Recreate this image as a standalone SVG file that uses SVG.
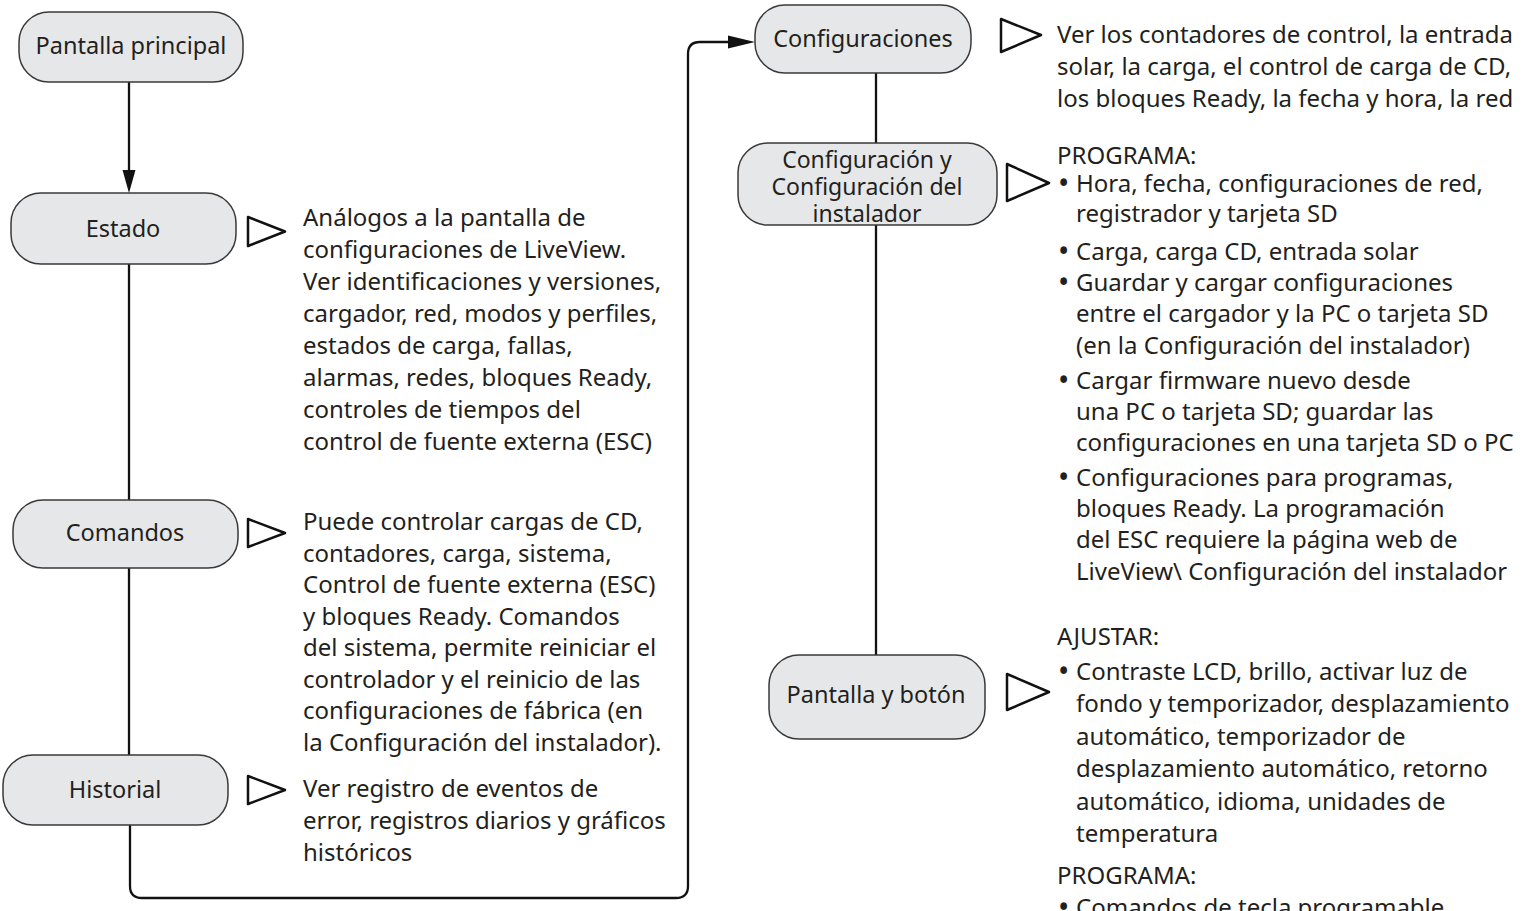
<svg xmlns="http://www.w3.org/2000/svg" width="1537" height="911" viewBox="0 0 1537 911">
<style>
.node rect{fill:#e6e7e8;stroke:#3a3a3a;stroke-width:1.5}
.lbl{font-family:"Noto Sans",Lato,sans-serif;font-size:23.5px;fill:#231f20;text-anchor:middle}
.lbl2{font-family:"Noto Sans",Lato,sans-serif;font-size:23px;fill:#231f20;text-anchor:middle}
.txt{font-family:"Noto Sans",Lato,sans-serif;font-size:24px;fill:#231f20}
.bul{font-size:30px}
.tri{fill:none;stroke:#111;stroke-width:2.5;stroke-linejoin:round}
.conn{fill:none;stroke:#111;stroke-width:2.3}
.ah{fill:#111}
</style>
<rect width="1537" height="911" fill="#fff"/>
<g id="connectors">
<path class="conn" d="M129,82 V172"/>
<polygon class="ah" points="122.5,170 135.5,170 129,193"/>
<path class="conn" d="M129,264 V500"/>
<path class="conn" d="M129,568 V755"/>
<path class="conn" d="M130,825 V886 Q130,898 142,898 H676 Q688,898 688,886 V54 Q688,42 700,42 H730"/>
<polygon class="ah" points="728,35.5 728,48.5 755,42"/>
<path class="conn" d="M876,73 V143"/>
<path class="conn" d="M876,225 V655"/>
</g>
<g id="n-pantalla-principal" class="node">
<rect x="19" y="12" width="224" height="70" rx="30"/>
<text class="lbl" x="131" y="54">Pantalla principal</text>
</g>
<g id="n-estado" class="node">
<rect x="11" y="193" width="225" height="71" rx="30"/>
<text class="lbl" x="123" y="237">Estado</text>
</g>
<g id="n-comandos" class="node">
<rect x="13" y="500" width="225" height="68" rx="30"/>
<text class="lbl" x="125" y="541">Comandos</text>
</g>
<g id="n-historial" class="node">
<rect x="3" y="755" width="225" height="70" rx="30"/>
<text class="lbl" x="115" y="798">Historial</text>
</g>
<g id="n-configuraciones" class="node">
<rect x="755" y="5" width="216" height="68" rx="30"/>
<text class="lbl" x="863" y="47">Configuraciones</text>
</g>
<g id="n-config-instalador" class="node">
<rect x="738" y="143" width="259" height="82" rx="30"/>
<text class="lbl2" x="867" y="168">Configuración y<tspan x="867" dy="27">Configuración del</tspan><tspan x="867" dy="27">instalador</tspan></text>
</g>
<g id="n-pantalla-boton" class="node">
<rect x="769" y="655" width="216" height="84" rx="30"/>
<text class="lbl" x="876" y="703">Pantalla y botón</text>
</g>
<g id="pointers">
<path class="tri" d="M248,217 L285,231.5 L248,246 Z"/>
<path class="tri" d="M248,519 L285,533 L248,547 Z"/>
<path class="tri" d="M248,776 L285,790 L248,804 Z"/>
<path class="tri" d="M1001,19 L1041,35 L1001,52 Z"/>
<path class="tri" d="M1007,164 L1049,183 L1007,201 Z"/>
<path class="tri" d="M1007,674 L1049,692 L1007,710 Z"/>
</g>
<g id="desc-estado">
<text class="txt" x="303" y="226">Análogos a la pantalla de</text>
<text class="txt" x="303" y="258">configuraciones de LiveView.</text>
<text class="txt" x="303" y="290">Ver identificaciones y versiones,</text>
<text class="txt" x="303" y="322">cargador, red, modos y perfiles,</text>
<text class="txt" x="303" y="354">estados de carga, fallas,</text>
<text class="txt" x="303" y="386">alarmas, redes, bloques Ready,</text>
<text class="txt" x="303" y="418">controles de tiempos del</text>
<text class="txt" x="303" y="450">control de fuente externa (ESC)</text>
</g>
<g id="desc-comandos">
<text class="txt" x="303" y="530">Puede controlar cargas de CD,</text>
<text class="txt" x="303" y="561.5">contadores, carga, sistema,</text>
<text class="txt" x="303" y="593">Control de fuente externa (ESC)</text>
<text class="txt" x="303" y="624.5">y bloques Ready. Comandos</text>
<text class="txt" x="303" y="656">del sistema, permite reiniciar el</text>
<text class="txt" x="303" y="687.5">controlador y el reinicio de las</text>
<text class="txt" x="303" y="719">configuraciones de fábrica (en</text>
<text class="txt" x="303" y="750.5">la Configuración del instalador).</text>
</g>
<g id="desc-historial">
<text class="txt" x="303" y="797">Ver registro de eventos de</text>
<text class="txt" x="303" y="829">error, registros diarios y gráficos</text>
<text class="txt" x="303" y="861">históricos</text>
</g>
<g id="desc-configuraciones">
<text class="txt" x="1057" y="43">Ver los contadores de control, la entrada</text>
<text class="txt" x="1057" y="75">solar, la carga, el control de carga de CD,</text>
<text class="txt" x="1057" y="107">los bloques Ready, la fecha y hora, la red</text>
</g>
<g id="desc-config-instalador">
<text class="txt" x="1057" y="164">PROGRAMA:</text>
<text class="txt" x="1058" y="192"><tspan class="bul" dy="2">•</tspan><tspan x="1076" dy="-2">Hora, fecha, configuraciones de red,</tspan><tspan x="1076" dy="30">registrador y tarjeta SD</tspan></text>
<text class="txt" x="1058" y="260"><tspan class="bul" dy="2">•</tspan><tspan x="1076" dy="-2">Carga, carga CD, entrada solar</tspan></text>
<text class="txt" x="1058" y="291"><tspan class="bul" dy="2">•</tspan><tspan x="1076" dy="-2">Guardar y cargar configuraciones</tspan><tspan x="1076" dy="31">entre el cargador y la PC o tarjeta SD</tspan><tspan x="1076" dy="32">(en la Configuración del instalador)</tspan></text>
<text class="txt" x="1058" y="389"><tspan class="bul" dy="2">•</tspan><tspan x="1076" dy="-2">Cargar firmware nuevo desde</tspan><tspan x="1076" dy="31">una PC o tarjeta SD; guardar las</tspan><tspan x="1076" dy="31">configuraciones en una tarjeta SD o PC</tspan></text>
<text class="txt" x="1058" y="486"><tspan class="bul" dy="2">•</tspan><tspan x="1076" dy="-2">Configuraciones para programas,</tspan><tspan x="1076" dy="31">bloques Ready. La programación</tspan><tspan x="1076" dy="31">del ESC requiere la página web de</tspan><tspan x="1076" dy="32">LiveView\ Configuración del instalador</tspan></text>
</g>
<g id="desc-pantalla-boton">
<text class="txt" x="1057" y="645">AJUSTAR:</text>
<text class="txt" x="1058" y="680"><tspan class="bul" dy="2">•</tspan><tspan x="1076" dy="-2">Contraste LCD, brillo, activar luz de</tspan><tspan x="1076" dy="32">fondo y temporizador, desplazamiento</tspan><tspan x="1076" dy="33">automático, temporizador de</tspan><tspan x="1076" dy="32">desplazamiento automático, retorno</tspan><tspan x="1076" dy="33">automático, idioma, unidades de</tspan><tspan x="1076" dy="32">temperatura</tspan></text>
<text class="txt" x="1057" y="884">PROGRAMA:</text>
<text class="txt" x="1058" y="916"><tspan class="bul" dy="2">•</tspan><tspan x="1076" dy="-2">Comandos de tecla programable</tspan></text>
</g>
</svg>
